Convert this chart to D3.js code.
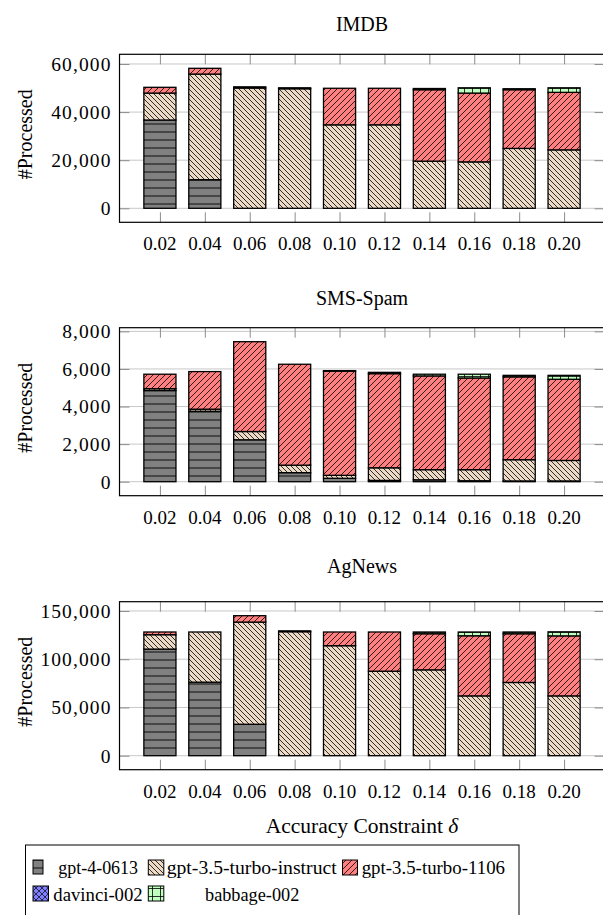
<!DOCTYPE html>
<html><head><meta charset="utf-8">
<script src="https://cdn.jsdelivr.net/npm/d3@7"></script>
<style>
body{margin:0;background:#fff}
svg{display:block}
text{font-family:"Liberation Serif","DejaVu Serif",serif;fill:#000}
</style>
</head><body>
<svg id="chart" width="603" height="915"></svg>
<script>
// ---------- data ----------
const categories = ["0.02","0.04","0.06","0.08","0.10","0.12","0.14","0.16","0.18","0.20"];
const models = ["gpt-4-0613","gpt-3.5-turbo-instruct","gpt-3.5-turbo-1106","davinci-002","babbage-002"];
const panelTitles = ["IMDB","SMS-Spam","AgNews"];

const imdbGpt4     = [36700, 11900, 0, 0, 0, 0, 0, 0, 0, 0];
const imdbInstruct = [11200, 43900, 50000, 49700, 34700, 34700, 19600, 19300, 24900, 24300];
const imdb1106     = [2400, 2400, 500, 400, 15200, 15200, 29700, 28600, 24400, 23900];
const imdbDavinci  = [0, 0, 0, 0, 0, 0, 0, 0, 0, 0];
const imdbBabbage  = [0, 0, 0, 0, 0, 0, 500, 2200, 400, 1900];
const imdbTicks    = [0, 20000, 40000, 60000];

const smsGpt4      = [4850, 3750, 2230, 480, 180, 70, 100, 50, 40, 40];
const smsInstruct  = [100, 110, 440, 400, 160, 670, 540, 590, 1130, 1090];
const sms1106      = [770, 2000, 4780, 5370, 5540, 5010, 4990, 4880, 4410, 4320];
const smsDavinci   = [0, 0, 0, 0, 0, 0, 0, 0, 0, 0];
const smsBabbage   = [0, 0, 0, 0, 30, 70, 90, 200, 80, 210];
const smsTicks     = [0, 2000, 4000, 6000, 8000];

const agGpt4       = [110500, 76200, 32600, 0, 0, 0, 0, 0, 0, 0];
const agInstruct   = [14900, 52000, 105900, 128500, 114000, 87600, 89000, 62000, 75900, 62000];
const ag1106       = [2800, 0, 6600, 900, 14200, 40600, 37400, 62300, 50500, 62200];
const agDavinci    = [0, 0, 0, 0, 0, 0, 0, 0, 0, 0];
const agBabbage    = [0, 0, 0, 0, 0, 0, 1800, 3900, 1800, 4200];
const agTicks      = [0, 50000, 100000, 150000];

const xLabel = "Accuracy Constraint ";
const yLabel = "#Processed";

// ---------- build ----------
const panels = [
  {title: panelTitles[0], series: [imdbGpt4, imdbInstruct, imdb1106, imdbDavinci, imdbBabbage], ticks: imdbTicks},
  {title: panelTitles[1], series: [smsGpt4, smsInstruct, sms1106, smsDavinci, smsBabbage], ticks: smsTicks},
  {title: panelTitles[2], series: [agGpt4, agInstruct, ag1106, agDavinci, agBabbage], ticks: agTicks}
];

const fills = ["#808080", "#ECD9C6", "#FF8080", "#8080FF", "#BFFFBF"];
const patIds = ["p-h", "p-nw", "p-ne", "p-x", "p-grid"];

const svg = d3.select("#chart");
const defs = svg.append("defs");
function pattern(id, size, d, sw) {
  const p = defs.append("pattern").attr("id", id).attr("patternUnits", "userSpaceOnUse")
    .attr("width", size).attr("height", size);
  p.append("path").attr("d", d).attr("stroke", "#000").attr("stroke-width", sw).attr("fill", "none");
}
pattern("p-h", 8, "M0,4H8", 0.9);
pattern("p-nw", 5, "M-1,-1L6,6M-1,4L1,6M4,-1L6,1", 0.8);
pattern("p-ne", 6, "M-1,7L7,-1M-1,1L1,-1M5,7L7,5", 0.8);
pattern("p-x", 6, "M0,0L6,6M6,0L0,6", 0.7);
pattern("p-grid", 8, "M0,0.5H8M0.5,0V8", 0.8);

const FS = 19.5;
const frameL = 119.5, frameR = 604.5, frameH = 168;
const tops = [54.3, 327.7, 601.7];
const titleGap = [23, 23, 29];
const fmt = d3.format(",");

const x = d3.scalePoint().domain(categories).range([frameL, frameR]).padding(0.9);
const barW = x.step() * 0.715;

panels.forEach((pn, pi) => {
  const top = tops[pi], bottom = top + frameH;
  const rows = categories.map((c, i) => {
    const r = {cat: c};
    models.forEach((m, k) => r[m] = pn.series[k][i]);
    return r;
  });
  const stacked = d3.stack().keys(models)(rows);
  const maxTotal = d3.max(rows, r => d3.sum(models, m => r[m]));
  const y = d3.scaleLinear().domain([-0.1 * maxTotal, 1.1 * maxTotal]).range([bottom, top]);

  const g = svg.append("g");

  // grid
  g.selectAll(".grid").data(pn.ticks).join("line")
    .attr("x1", frameL).attr("x2", frameR)
    .attr("y1", d => y(d)).attr("y2", d => y(d))
    .attr("stroke", "#c8c8c8").attr("stroke-width", 1);

  // axes via d3 (tick marks inside)
  const yAxisL = d3.axisRight(y).tickValues(pn.ticks).tickSize(10).tickFormat("");
  const yAxisR = d3.axisLeft(y).tickValues(pn.ticks).tickSize(10).tickFormat("");
  const xAxisT = d3.axisBottom(x).tickSize(10).tickFormat("");
  const xAxisB = d3.axisTop(x).tickSize(10).tickFormat("");
  [[yAxisL, `translate(${frameL},0)`], [yAxisR, `translate(${frameR},0)`],
   [xAxisT, `translate(0,${top})`], [xAxisB, `translate(0,${bottom})`]].forEach(([ax, tr]) => {
    const a = g.append("g").attr("transform", tr).call(ax);
    a.select(".domain").remove();
    a.selectAll("line").attr("stroke", "#8c8c8c").attr("stroke-width", 1);
  });

  // bars
  stacked.forEach((layer, k) => {
    const segs = layer.filter(d => d[1] - d[0] > 0);
    const sel = g.append("g");
    sel.selectAll("rect.f").data(segs).join("rect")
      .attr("x", d => x(d.data.cat) - barW / 2).attr("width", barW)
      .attr("y", d => y(d[1])).attr("height", d => y(d[0]) - y(d[1]))
      .attr("fill", fills[k]);
    sel.selectAll("rect.p").data(segs).join("rect")
      .attr("x", d => x(d.data.cat) - barW / 2).attr("width", barW)
      .attr("y", d => y(d[1])).attr("height", d => y(d[0]) - y(d[1]))
      .attr("fill", `url(#${patIds[k]})`)
      .attr("stroke", "#000").attr("stroke-width", 1.3);
  });

  // frame
  g.append("rect").attr("x", frameL).attr("y", top).attr("width", frameR - frameL).attr("height", frameH)
    .attr("fill", "none").attr("stroke", "#000").attr("stroke-width", 1.2);

  // tick labels
  g.selectAll(".yl").data(pn.ticks).join("text")
    .attr("x", frameL - 8).attr("y", d => y(d)).attr("dy", "0.35em")
    .attr("text-anchor", "end").attr("font-size", FS).attr("letter-spacing", 1.1)
    .text(d => fmt(d));
  g.selectAll(".xl").data(categories).join("text")
    .attr("x", d => x(d)).attr("y", bottom + 28)
    .attr("text-anchor", "middle").attr("font-size", FS - 0.5).text(d => d);

  // title
  g.append("text").attr("x", (frameL + frameR) / 2).attr("y", top - titleGap[pi])
    .attr("text-anchor", "middle").attr("font-size", FS + 0.5).text(pn.title);

  // y label
  g.append("text").attr("transform", `translate(32,${top + frameH / 2 - 4}) rotate(-90)`)
    .attr("text-anchor", "middle").attr("font-size", FS + 0.5).text(yLabel);
});

// x label
const xl = svg.append("text").attr("x", (frameL + frameR) / 2).attr("y", 833)
  .attr("text-anchor", "middle").attr("font-size", 21.5);
xl.append("tspan").text(xLabel);
xl.append("tspan").attr("font-style", "italic").text("δ");

// legend
const lg = svg.append("g");
lg.append("rect").attr("x", 25.5).attr("y", 845).attr("width", 493.5).attr("height", 90)
  .attr("fill", "#fff").attr("stroke", "#000").attr("stroke-width", 1);
const legendPos = [
  {sx: 33, sy: 860, sw: 10, sh: 14, tx: 58.3, ty: 874, tw: 79.7},
  {sx: 148.3, sy: 860, sw: 15.5, sh: 15, tx: 166.7, ty: 874, tw: 170},
  {sx: 342.5, sy: 860, sw: 15, sh: 15, tx: 361.7, ty: 874, tw: 143.3},
  {sx: 33, sy: 886, sw: 15.5, sh: 15, tx: 53.3, ty: 901, tw: 89.4},
  {sx: 148.3, sy: 886, sw: 15.5, sh: 15, tx: 205, ty: 901, tw: 94.3}
];
models.forEach((m, k) => {
  const p = legendPos[k];
  lg.append("rect").attr("x", p.sx).attr("y", p.sy).attr("width", p.sw).attr("height", p.sh).attr("fill", fills[k]);
  lg.append("rect").attr("x", p.sx).attr("y", p.sy).attr("width", p.sw).attr("height", p.sh)
    .attr("fill", `url(#${patIds[k]})`).attr("stroke", "#000").attr("stroke-width", 1);
  lg.append("text").attr("x", p.tx).attr("y", p.ty).attr("font-size", FS)
    .attr("textLength", p.tw).attr("lengthAdjust", "spacingAndGlyphs").text(m);
});
</script>
</body></html>
